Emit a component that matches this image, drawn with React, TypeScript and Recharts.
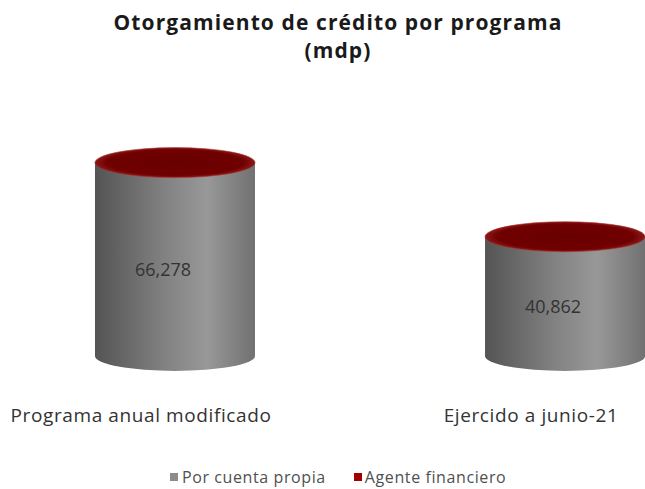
import { BarChart, Bar, XAxis, YAxis, LabelList } from "recharts";

const categorias = ["Programa anual modificado", "Ejercido a junio-21"];
const porCuentaPropia = [66278, 40862];
const agenteFinanciero = [120, 90];

const data = categorias.map((c, i) => ({
    idx: i,
    nombre: c,
    propia: porCuentaPropia[i],
    agente: agenteFinanciero[i],
}));

const FONT = "'Open Sans', sans-serif";
const RY = 15;

function GrayCylinder(props: any) {
    const { x, y, width, height, index } = props;
    const id = `gris-${index}`;
    const rx = width / 2;
    const d = `M${x},${y} L${x},${y + height} A${rx},${RY} 0 0 0 ${x + width},${y + height} L${x + width},${y} Z`;
    return (
        <g>
            <defs>
                <linearGradient id={id} x1="0" y1="0" x2="1" y2="0">
                    <stop offset="0%" stopColor="#545454" />
                    <stop offset="45%" stopColor="#838383" />
                    <stop offset="70%" stopColor="#989898" />
                    <stop offset="100%" stopColor="#717171" />
                </linearGradient>
            </defs>
            <path d={d} fill={`url(#${id})`} />
        </g>
    );
}

function RedTop(props: any) {
    const { x, y, width, height, index } = props;
    const id = `rojo-${index}`;
    const rx = width / 2;
    const cx = x + rx;
    return (
        <g>
            <defs>
                <radialGradient id={id} cx="50%" cy="50%" r="50%">
                    <stop offset="0%" stopColor="#680000" />
                    <stop offset="85%" stopColor="#700000" />
                    <stop offset="100%" stopColor="#8a1818" />
                </radialGradient>
            </defs>
            <rect x={x} y={y} width={width} height={Math.max(height, 0)} fill="#680000" />
            <ellipse cx={cx} cy={y} rx={rx} ry={RY} fill={`url(#${id})`} stroke="#a83030" strokeWidth={0.6} />
        </g>
    );
}

function ValueLabel(props: any) {
    const { x, y, width, height, value } = props;
    return (
        <text
            x={x + width / 2 - 12}
            y={y + height / 2 + 12}
            textAnchor="middle"
            dominantBaseline="middle"
            fontFamily={FONT}
            fontSize={18}
            fill="#333333"
        >
            {Number(value).toLocaleString("en-US")}
        </text>
    );
}

function CategoryTick(props: any) {
    const { x, y, payload } = props;
    return (
        <text
            x={x - 34}
            y={y + 58}
            textAnchor="middle"
            fontFamily={FONT}
            fontSize={19}
            letterSpacing={0.6}
            fill="#333333"
        >
            {categorias[payload.value]}
        </text>
    );
}

export default function App() {
    return (
        <div style={{ position: "absolute", left: 0, top: 0, width: 645, height: 489, background: "#fff" }}>
            <svg width={645} height={70} style={{ position: "absolute", left: 0, top: 0 }}>
                <text x={338} y={30} textAnchor="middle" fontFamily={FONT} fontWeight={700} fontSize={21} letterSpacing={1.1} fill="#1a1a1a">
                    Otorgamiento de crédito por programa
                </text>
                <text x={338} y={58} textAnchor="middle" fontFamily={FONT} fontWeight={700} fontSize={21} letterSpacing={1.1} fill="#1a1a1a">
                    (mdp)
                </text>
            </svg>
            <div style={{ position: "absolute", left: 0, top: 0 }}>
                <BarChart
                    width={645}
                    height={489}
                    data={data}
                    margin={{ top: 123, right: 0, bottom: 132, left: 0 }}
                >
                    <XAxis
                        type="number"
                        dataKey="idx"
                        domain={[-0.4487, 1.205]}
                        ticks={[0, 1]}
                        axisLine={false}
                        tickLine={false}
                        tick={<CategoryTick />}
                        height={1}
                        interval={0}
                    />
                    <YAxis hide domain={[0, 80000]} width={0} />
                    <Bar dataKey="propia" stackId="a" barSize={160} shape={<GrayCylinder />} isAnimationActive={false}>
                        <LabelList dataKey="propia" content={<ValueLabel />} />
                    </Bar>
                    <Bar dataKey="agente" stackId="a" barSize={160} shape={<RedTop />} isAnimationActive={false} />
                </BarChart>
            </div>
            <div
                style={{
                    position: "absolute",
                    left: 170,
                    top: 466,
                    display: "flex",
                    gap: 28,
                    fontFamily: FONT,
                    fontSize: 16,
                    letterSpacing: 0.6,
                    color: "#505050",
                    whiteSpace: "nowrap",
                }}
            >
                <span style={{ display: "flex", alignItems: "center" }}>
                    <span style={{ width: 8, height: 8, background: "#8c8c8c", marginRight: 4, display: "inline-block" }} />
                    Por cuenta propia
                </span>
                <span style={{ display: "flex", alignItems: "center" }}>
                    <span style={{ width: 8, height: 8, background: "#a00000", marginRight: 3, display: "inline-block" }} />
                    Agente financiero
                </span>
            </div>
        </div>
    );
}
